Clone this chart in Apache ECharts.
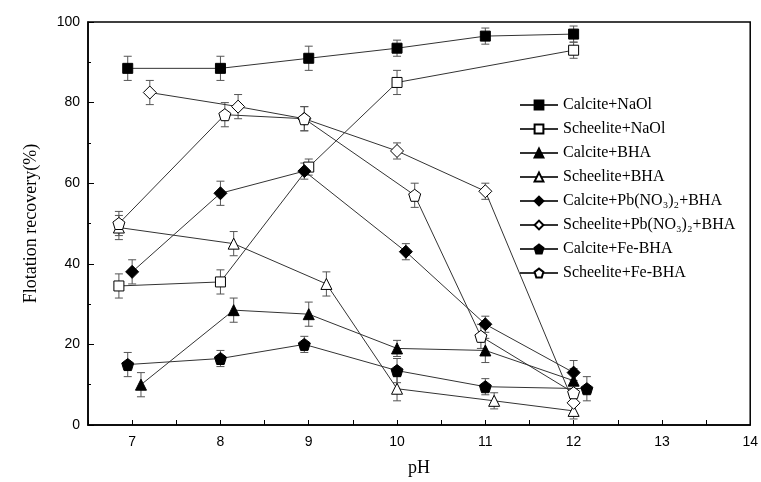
<!DOCTYPE html>
<html><head><meta charset="utf-8">
<script src="https://cdn.jsdelivr.net/npm/echarts@6/dist/echarts.min.js"></script>
<style>html,body{margin:0;background:#fff}#c{width:761px;height:482px}</style>
</head><body><div id="c"></div>
<script>
const names = ['Calcite+NaOl', 'Scheelite+NaOl', 'Calcite+BHA', 'Scheelite+BHA',
  'Calcite+Pb(NO₃)₂+BHA', 'Scheelite+Pb(NO₃)₂+BHA', 'Calcite+Fe-BHA', 'Scheelite+Fe-BHA']
// [pH, recovery, error]
const calciteNaOl = [[6.95, 88.5, 3], [8, 88.5, 3], [9, 91, 3], [10, 93.5, 2], [11, 96.5, 2], [12, 97, 2]]
const scheeliteNaOl = [[6.85, 34.5, 3], [8, 35.5, 3], [9, 64, 2], [10, 85, 3], [12, 93, 2]]
const calciteBHA = [[7.1, 10, 3], [8.15, 28.5, 3], [9, 27.5, 3], [10, 19, 2], [11, 18.5, 3], [12, 11, 3]]
const scheeliteBHA = [[6.85, 49, 3], [8.15, 45, 3], [9.2, 35, 3], [10, 9, 3], [11.1, 6, 2], [12, 3.5, 2]]
const calcitePb = [[7, 38, 3], [8, 57.5, 3], [8.95, 63, 2], [10.1, 43, 2], [11, 25, 2], [12, 13, 3]]
const scheelitePb = [[7.2, 82.5, 3], [8.2, 79, 3], [8.95, 76, 3], [10, 68, 2], [11, 58, 2], [12, 5.5, 3]]
const calciteFe = [[6.95, 15, 3], [8, 16.5, 2], [8.95, 20, 2], [10, 13.5, 3], [11, 9.5, 2], [12.15, 9, 3]]
const scheeliteFe = [[6.85, 50, 3], [8.05, 77, 3], [8.95, 76, 3], [10.2, 57, 3], [10.95, 22, 3], [12, 8, 3]]
const allData = [calciteNaOl, scheeliteNaOl, calciteBHA, scheeliteBHA, calcitePb, scheelitePb, calciteFe, scheeliteFe]

const pentagon = 'path://M50,0 L100,38 L81,100 L19,100 L0,38 Z'
const symbols = ['rect', 'rect', 'triangle', 'triangle', 'diamond', 'diamond', pentagon, pentagon]
const sizes = [10, 10, 11, 11, 13, 13, 12, 12]
const filled = [true, false, true, false, true, false, true, false]

const series = []
allData.forEach((d, i) => {
  series.push({
    type: 'line', name: names[i], data: d.map(p => [p[0], p[1]]),
    symbol: symbols[i], symbolSize: sizes[i], z: 3,
    lineStyle: { color: '#333', width: 1 },
    itemStyle: { color: filled[i] ? '#000' : '#fff', borderColor: '#000', borderWidth: 1 }
  })
  series.push({
    type: 'custom', data: d, z: 2, silent: true,
    renderItem(params, api) {
      const x = api.value(0), y = api.value(1), e = api.value(2)
      const top = api.coord([x, y + e]), bot = api.coord([x, y - e])
      const s = { stroke: '#555', lineWidth: 1 }
      return { type: 'group', children: [
        { type: 'line', shape: { x1: top[0], y1: top[1], x2: bot[0], y2: bot[1] }, style: s },
        { type: 'line', shape: { x1: top[0] - 4, y1: top[1], x2: top[0] + 4, y2: top[1] }, style: s },
        { type: 'line', shape: { x1: bot[0] - 4, y1: bot[1], x2: bot[0] + 4, y2: bot[1] }, style: s }
      ] }
    }
  })
})

const axisCommon = {
  axisLine: { show: true, onZero: false, lineStyle: { color: '#000', width: 1.5 } },
  axisTick: { show: true, inside: true, length: 6, lineStyle: { color: '#000' } },
  minorTick: { show: true, splitNumber: 2, length: 3, lineStyle: { color: '#000' } },
  splitLine: { show: false },
  axisLabel: { color: '#000', fontFamily: 'Liberation Sans', fontSize: 14 },
  nameTextStyle: { color: '#000', fontFamily: 'Liberation Serif', fontSize: 18 }
}

const chart = echarts.init(document.getElementById('c'))
chart.setOption({
  animation: false,
  textStyle: { fontFamily: 'Liberation Serif' },
  grid: { left: 88, right: 6, top: 22, bottom: 57, show: true, borderColor: '#000', borderWidth: 1.5 },
  xAxis: { type: 'value', min: 6.5, max: 14, interval: 0.5, name: 'pH', nameLocation: 'middle', nameGap: 34,
    ...axisCommon,
    axisTick: { ...axisCommon.axisTick, length: 5 },
    minorTick: { show: false },
    axisLabel: { ...axisCommon.axisLabel, margin: 10, showMinLabel: true, showMaxLabel: true,
      formatter: v => Math.abs(v - Math.round(v)) < 1e-6 ? String(Math.round(v)) : '' } },
  yAxis: { type: 'value', min: 0, max: 100, interval: 20, name: 'Flotation recovery(%)', nameLocation: 'middle', nameGap: 48,
    ...axisCommon },
  legend: {
    data: names, orient: 'vertical', left: 514, top: 92, itemGap: 8, itemWidth: 38, itemHeight: 11,
    textStyle: { fontFamily: 'Liberation Serif', fontSize: 16, color: '#000' }
  },
  series
})
</script></body></html>
